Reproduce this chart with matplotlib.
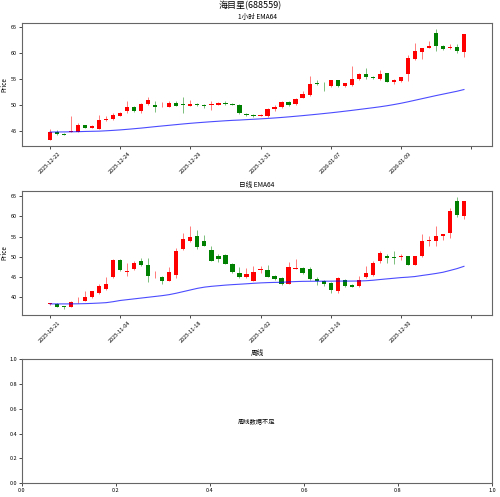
import matplotlib
matplotlib.use('Agg')
import matplotlib.pyplot as plt
import numpy as np

plt.rcParams['font.family'] = ['Noto Sans CJK SC', 'DejaVu Sans']
plt.rcParams['axes.unicode_minus'] = False

# hourly candles (open, high, low, close)
h_open = [43.3, 44.8, 44.4, 44.8, 44.8, 46.1, 45.6, 45.4, 47.0, 47.2,
          47.9, 48.85, 49.55, 48.85, 50.2, 50.0, 49.7, 49.6, 50.4, 50.0,
          49.75, 50.2, 50.0, 50.05, 50.05, 50.3, 50.2, 50.0, 48.33, 48.1,
          47.9, 47.8, 49.2, 49.5, 50.6, 50.1, 51.35, 51.9, 54.2, 53.9,
          53.6, 54.75, 53.65, 53.8, 54.9, 55.95, 55.45, 55.0, 56.1, 54.5,
          54.6, 55.9, 58.8, 60.25, 61.0, 63.8, 61.4, 61.0, 61.15, 60.1]
h_high = [45.3, 45.2, 44.5, 47.8, 46.5, 46.2, 46.1, 48.0, 47.8, 48.4,
          48.6, 50.8, 49.7, 50.3, 51.6, 50.8, 50.6, 50.8, 50.7, 51.5,
          51.0, 50.4, 50.1, 50.8, 50.6, 50.8, 50.4, 50.1, 48.5, 48.2,
          48.3, 49.35, 49.95, 50.75, 50.7, 51.35, 52.6, 55.6, 54.7, 54.4,
          54.8, 54.8, 54.3, 57.5, 56.1, 57.05, 55.6, 56.7, 56.2, 54.95,
          55.45, 59.7, 62.0, 61.0, 62.4, 64.7, 61.6, 61.65, 61.7, 63.75]
h_low = [43.14, 44.2, 44.1, 44.8, 44.75, 45.5, 45.5, 45.4, 46.9, 47.1,
         47.8, 48.5, 48.7, 48.5, 50.0, 48.7, 49.6, 49.55, 49.7, 48.4,
         49.7, 49.8, 49.4, 49.0, 49.9, 50.0, 50.0, 48.3, 47.9, 47.75,
         47.8, 47.75, 48.9, 49.4, 49.85, 50.0, 51.3, 51.7, 53.8, 52.6,
         53.45, 53.5, 53.5, 53.65, 54.8, 54.9, 55.0, 54.7, 54.4, 54.05,
         54.5, 54.6, 58.65, 58.9, 60.9, 60.4, 60.6, 60.7, 59.9, 59.3]
h_close = [44.75, 44.3, 44.2, 45.0, 46.1, 45.6, 46.0, 47.05, 47.3, 48.1,
           48.5, 49.55, 48.85, 50.2, 51.0, 49.6, 49.8, 50.4, 49.8, 49.95,
           50.1, 49.9, 49.7, 50.2, 50.4, 50.2, 50.05, 48.4, 47.95, 47.8,
           48.1, 49.2, 49.6, 50.6, 49.9, 51.2, 52.0, 54.1, 54.0, 53.75,
           54.7, 53.6, 54.2, 54.9, 55.9, 55.4, 55.25, 55.95, 54.5, 54.8,
           55.45, 59.0, 60.4, 61.0, 61.3, 61.35, 60.8, 61.15, 60.4, 63.7]
h_ema = [44.75, 44.77, 44.78, 44.80, 44.83, 44.87, 44.90, 44.93, 45.00, 45.08,
         45.17, 45.28, 45.40, 45.52, 45.66, 45.80, 45.93, 46.06, 46.19, 46.32,
         46.44, 46.55, 46.65, 46.75, 46.84, 46.93, 47.01, 47.07, 47.15, 47.22,
         47.30, 47.38, 47.47, 47.57, 47.68, 47.80, 47.92, 48.05, 48.18, 48.32,
         48.46, 48.61, 48.77, 48.93, 49.10, 49.27, 49.44, 49.62, 49.82, 50.05,
         50.30, 50.58, 50.88, 51.18, 51.48, 51.78, 52.06, 52.34, 52.62, 52.95]
h_labels = ['2025-12-22', '2025-12-24', '2025-12-29', '2025-12-31',
            '2026-01-07', '2026-01-09', '']

# daily candles
d_open = [38.3, 38.35, 37.8, 37.6, 39.5, 39.1, 40.0, 41.0, 41.95, 44.9,
          49.1, 46.15, 47.0, 48.9, 48.1, 44.95, 45.0, 44.0, 45.5, 51.95,
          53.9, 55.15, 53.85, 51.8, 50.15, 50.4, 48.35, 46.05, 45.1, 44.1,
          46.7, 46.7, 45.3, 44.85, 43.3, 46.95, 47.2, 47.05, 44.5, 44.1,
          43.5, 41.65, 44.35, 43.0, 42.8, 45.0, 45.5, 48.95, 50.1, 50.0,
          49.9, 50.1, 48.1, 50.1, 53.8, 53.95, 55.15, 55.9, 63.75, 60.1]
d_high = [38.6, 38.5, 37.85, 39.1, 40.1, 41.5, 41.6, 43.35, 44.9, 49.4,
          49.35, 48.4, 48.85, 49.75, 49.6, 46.5, 45.25, 47.4, 52.2, 55.8,
          57.6, 56.55, 55.5, 52.8, 50.8, 50.6, 48.5, 47.4, 47.15, 47.7,
          47.7, 47.95, 45.5, 45.1, 48.6, 49.5, 47.4, 47.4, 45.1, 44.25,
          43.7, 44.9, 44.6, 43.2, 45.3, 47.7, 48.95, 51.55, 50.8, 51.5,
          50.8, 50.15, 50.3, 55.75, 55.15, 57.55, 55.75, 62.15, 64.9, 63.7]
d_low = [38.2, 37.55, 37.0, 37.6, 38.6, 39.0, 39.9, 40.8, 41.8, 44.75,
         46.55, 45.3, 46.7, 47.85, 43.85, 44.8, 43.35, 43.9, 44.75, 51.8,
         53.75, 51.95, 52.7, 48.9, 48.8, 48.3, 46.0, 44.85, 44.7, 44.0,
         46.05, 44.9, 44.25, 43.05, 43.2, 46.9, 45.8, 44.35, 42.95, 42.8,
         41.15, 41.15, 42.45, 42.45, 42.45, 44.75, 45.3, 48.5, 48.5, 48.35,
         49.2, 47.95, 47.95, 49.9, 52.6, 52.6, 54.1, 54.75, 59.85, 59.25]
d_close = [38.5, 37.6, 37.7, 38.7, 39.6, 40.15, 41.5, 42.8, 43.2, 49.2,
           46.7, 46.5, 48.45, 48.0, 45.15, 45.1, 43.9, 46.15, 51.4, 54.35,
           54.8, 52.45, 52.8, 49.0, 49.35, 48.35, 46.15, 45.0, 45.8, 46.15,
           46.9, 45.1, 44.4, 43.2, 47.4, 47.2, 46.0, 44.45, 44.1, 43.35,
           41.7, 44.75, 42.85, 42.6, 44.35, 46.05, 48.5, 51.0, 49.75, 49.75,
           50.15, 48.1, 50.1, 54.0, 54.1, 55.25, 55.55, 61.4, 60.4, 63.7]
d_ema = [38.35, 38.35, 38.35, 38.36, 38.38, 38.42, 38.48, 38.56, 38.66, 38.90,
         39.20, 39.40, 39.60, 39.80, 40.00, 40.20, 40.40, 40.65, 41.00, 41.40,
         41.80, 42.20, 42.50, 42.70, 42.85, 43.00, 43.12, 43.22, 43.33, 43.45,
         43.55, 43.62, 43.67, 43.70, 43.80, 43.88, 43.93, 43.95, 43.96, 43.97,
         43.98, 44.00, 44.00, 44.00, 44.02, 44.08, 44.20, 44.38, 44.54, 44.70,
         44.86, 44.97, 45.12, 45.38, 45.62, 45.88, 46.18, 46.62, 47.08, 47.65]
d_labels = ['2025-10-21', '2025-11-04', '2025-11-18', '2025-12-02',
            '2025-12-16', '2025-12-30', '']


def candles(ax, o, h, l, c, ema, labels, title):
    x = np.arange(len(o))
    o = np.array(o); h = np.array(h); l = np.array(l); c = np.array(c)
    up = c >= o
    colors = np.where(up, 'red', 'green')
    ax.vlines(x, l, h, colors=colors, linewidth=0.6, alpha=0.6)
    body = np.maximum(np.abs(c - o), 0.12)
    ax.bar(x, body, bottom=np.minimum(o, c), width=0.6, color=colors)
    ax.plot(x, ema, color='blue', linewidth=0.8, alpha=0.7)
    ax.set_xticks(np.arange(0, len(o) + 1, 10))
    ax.set_xticklabels(labels, rotation=45)
    ax.set_xlim(-4, 63)
    ax.set_ylabel('Price', fontsize=4.5, labelpad=2)
    ax.set_title(title, fontsize=4.8, pad=3)
    ax.tick_params(labelsize=4, length=2, width=0.5, pad=1.5)


fig = plt.figure(figsize=(5, 4.97), dpi=100)
ax1 = fig.add_axes([0.044, 0.7062, 0.94, 0.2475])
ax2 = fig.add_axes([0.044, 0.3662, 0.94, 0.2495])
ax3 = fig.add_axes([0.044, 0.0276, 0.94, 0.2495])

candles(ax1, h_open, h_high, h_low, h_close, h_ema, h_labels, '1小时 EMA64')
candles(ax2, d_open, d_high, d_low, d_close, d_ema, d_labels, '日线 EMA64')
ax1.set_yticks([45, 50, 55, 60, 65])
ax2.set_yticks([40, 45, 50, 55, 60, 65])

ax3.set_title('周线', fontsize=4.8, pad=3)
ax3.text(0.5, 0.5, '周线数据不足', ha='center', va='center', fontsize=4.5)
ax3.tick_params(labelsize=4, length=2, width=0.5, pad=1.5)

for ax in (ax1, ax2, ax3):
    for s in ax.spines.values():
        s.set_linewidth(0.8)
        s.set_color('#666666')

fig.suptitle('海目星(688559)', fontsize=6.5, y=0.988, va='center')
plt.savefig('out.png', dpi=100)
